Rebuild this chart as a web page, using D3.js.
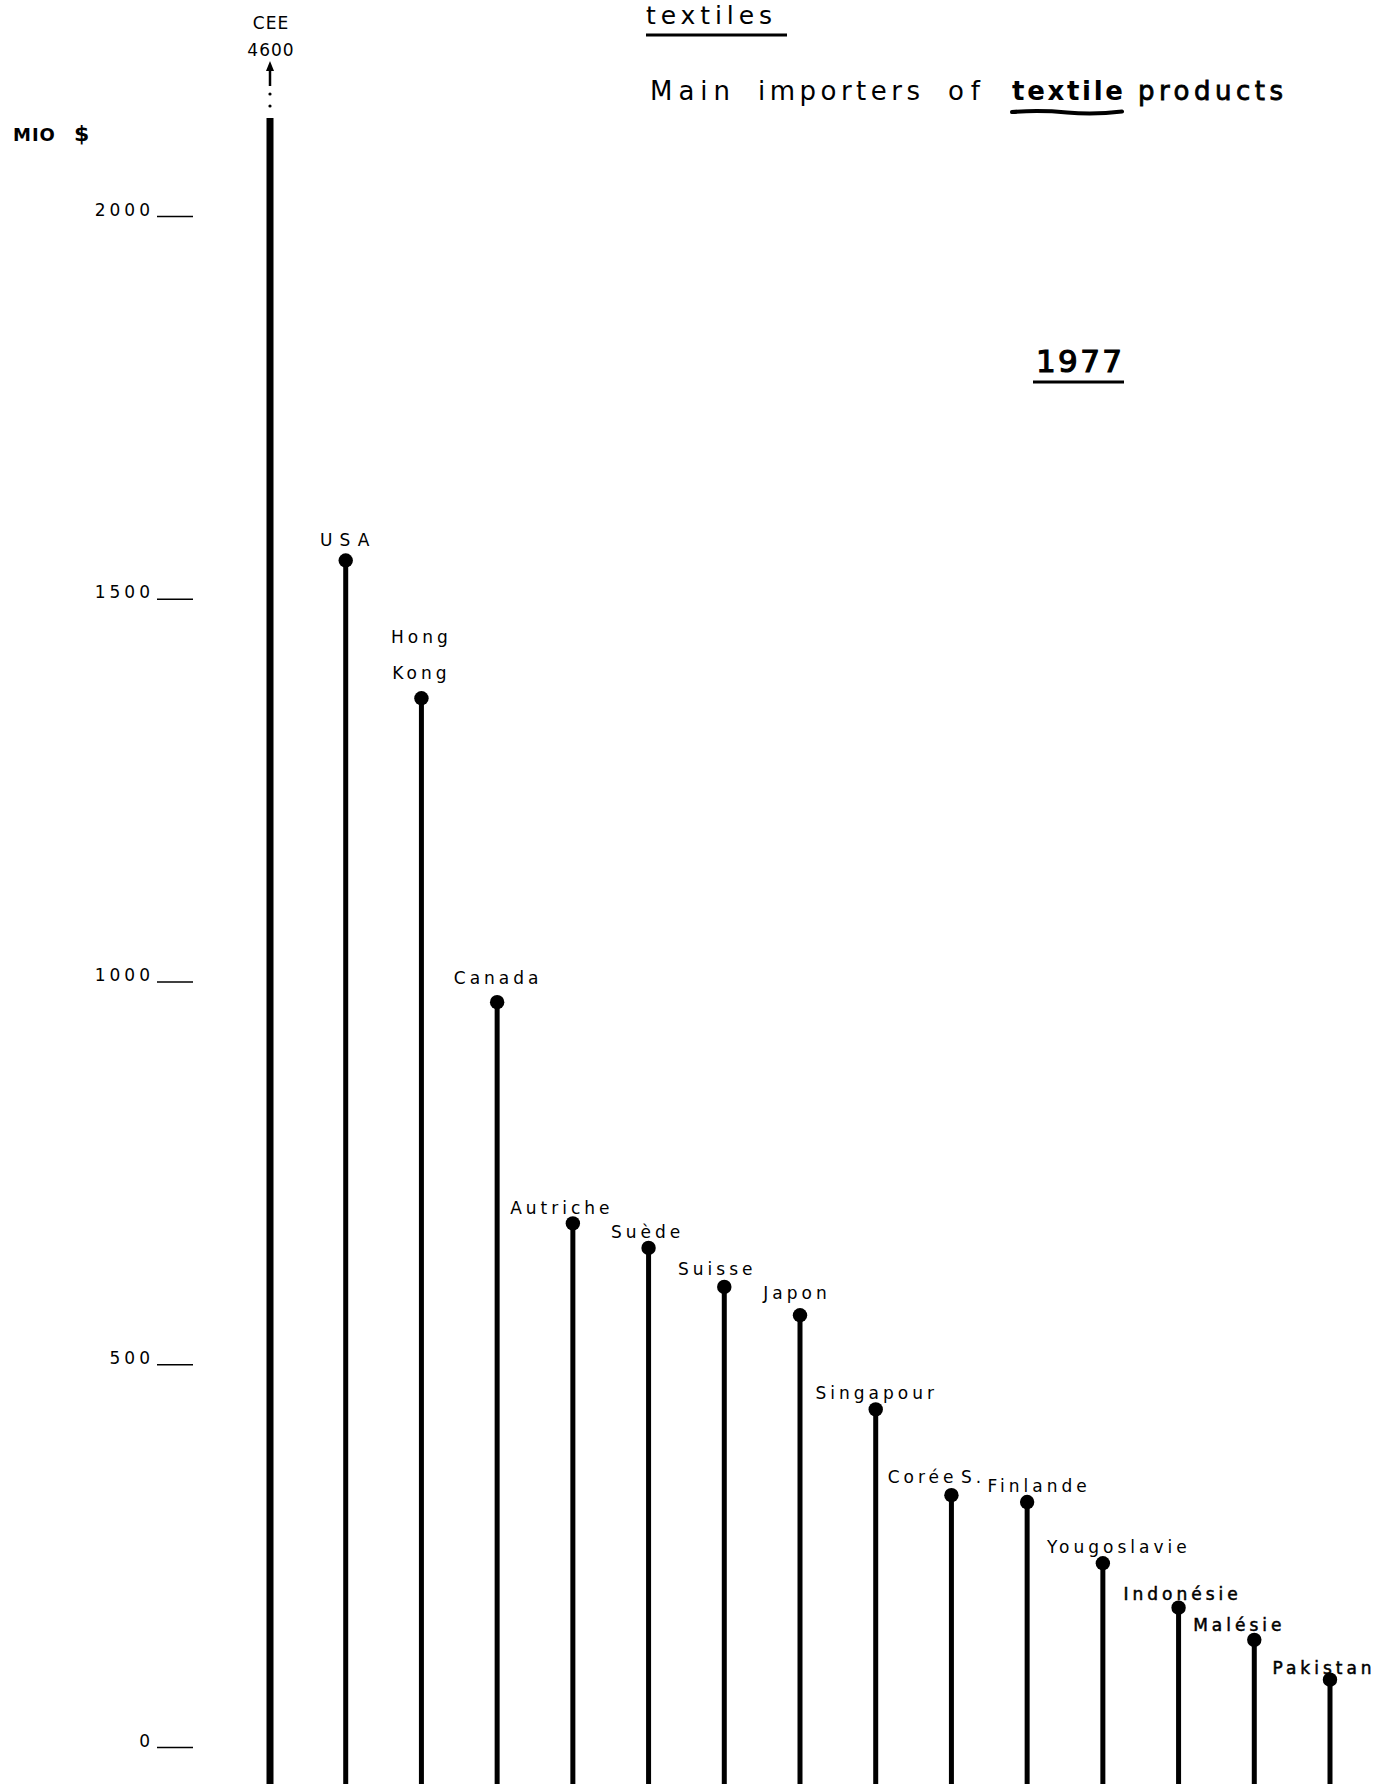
<!DOCTYPE html>
<html>
<head>
<meta charset="utf-8">
<script src="https://cdn.jsdelivr.net/npm/d3@7"></script>
<style>
  body { margin: 0; background: #fff; }
  svg text { font-family: "DejaVu Sans", "Noto Sans", sans-serif; fill: #000; }
</style>
</head>
<body>
<div id="chart"></div>
<script>
// data (Mio $, 1977)
var countries = ['CEE', 'USA', 'Hong Kong', 'Canada', 'Autriche', 'Suède', 'Suisse', 'Japon',
  'Singapour', 'Corée S.', 'Finlande', 'Yougoslavie', 'Indonésie', 'Malésie', 'Pakistan'];
var imports = [4600, 1550, 1370, 973, 684, 652, 601, 564, 441, 329, 320, 240, 182, 140, 88];
var yTicks = [0, 500, 1000, 1500, 2000];
var axisBreak = 2128; // stems above this value are drawn broken
var titleWords = ['Main', 'importers', 'of', 'textile', 'products'];

// label nudges (layout only): [dx, dy] of the label centre from the dot
var labelNudge = [[0, 0], [-1, -14], [-2, -19], [-1, -18], [-13, -9], [-3, -10], [-9, -12], [-5, -16],
  [-1, -10], [-17, -12], [10, -10], [14, -10], [2, -8], [-17, -9], [-8, -6]];
var heavyLabels = ['Indonésie', 'Malésie', 'Pakistan'];

var W = 1376, H = 1787;
var svg = d3.select('#chart').append('svg')
  .attr('width', W).attr('height', H);

var x = d3.scalePoint().domain(countries).range([270, 1330]);
var y = d3.scaleLinear().domain([0, 2000]).range([1747, 216]);
var stemBottom = H - 3;

// y axis: short dashes with labels
var axisG = svg.append('g').attr('transform', 'translate(193,0)');
axisG.call(d3.axisLeft(y).tickValues(yTicks).tickSize(36).tickPadding(3).tickFormat(d3.format('d')));
axisG.select('.domain').remove();
axisG.selectAll('.tick line').attr('stroke', '#000').attr('stroke-width', 1.6);
axisG.selectAll('.tick text')
  .attr('dy', '-0.05em')
  .style('font-size', '17px').style('letter-spacing', '4px')
  .style('font-family', '"DejaVu Sans", sans-serif').attr('fill', '#000');

var mio = svg.append('text').attr('x', 13).attr('y', 141)
  .style('font-size', '18px').style('font-weight', 'bold').style('letter-spacing', '1px');
mio.append('tspan').text('MIO');
mio.append('tspan').attr('dx', 18).style('font-size', '22px').text('$');

// stems
var stems = svg.selectAll('.stem')
  .data(countries.map(function(c, i) { return {name: c, value: imports[i], i: i}; }))
  .enter().append('g').attr('class', 'stem');

stems.append('line')
  .attr('x1', function(d) { return x(d.name); })
  .attr('x2', function(d) { return x(d.name); })
  .attr('y1', stemBottom)
  .attr('y2', function(d) { return y(Math.min(d.value, axisBreak)); })
  .attr('stroke', '#000')
  .attr('stroke-width', function(d) { return d.value > axisBreak ? 7 : 5; });

stems.filter(function(d) { return d.value <= axisBreak; })
  .append('circle')
  .attr('cx', function(d) { return x(d.name); })
  .attr('cy', function(d) { return y(d.value); })
  .attr('r', 7.2).attr('fill', '#000');

// broken stem: dots + arrow for the value off the scale
var broken = stems.filter(function(d) { return d.value > axisBreak; });
[12, 24].forEach(function(off) {
  broken.append('circle')
    .attr('cx', function(d) { return x(d.name); })
    .attr('cy', function(d) { return y(axisBreak) - off; })
    .attr('r', 1.6).attr('fill', '#000');
});
broken.append('line')
  .attr('x1', function(d) { return x(d.name); })
  .attr('x2', function(d) { return x(d.name); })
  .attr('y1', function(d) { return y(axisBreak) - 32; })
  .attr('y2', function(d) { return y(axisBreak) - 50; })
  .attr('stroke', '#000').attr('stroke-width', 2.5);
broken.append('path')
  .attr('d', function(d) {
    var cx = x(d.name), t = y(axisBreak) - 57;
    return 'M' + cx + ',' + t + 'L' + (cx - 4) + ',' + (t + 10) + 'L' + (cx + 4) + ',' + (t + 10) + 'Z';
  })
  .attr('fill', '#000');
broken.append('text')
  .attr('x', function(d) { return x(d.name) + 1; })
  .attr('y', function(d) { return y(axisBreak) - 62; })
  .attr('text-anchor', 'middle')
  .style('font-size', '17px').style('letter-spacing', '1px')
  .text(function(d) { return d.value; });
broken.append('text')
  .attr('x', function(d) { return x(d.name) + 1; })
  .attr('y', function(d) { return y(axisBreak) - 89; })
  .attr('text-anchor', 'middle')
  .style('font-size', '17px').style('letter-spacing', '1px')
  .text(function(d) { return d.name; });

// country labels
var ls = 4;
stems.filter(function(d) { return d.value <= axisBreak; })
  .each(function(d) {
    var g = d3.select(this);
    var lines = d.name === 'Hong Kong' ? ['Hong', 'Kong'] : [d.name];
    var nudge = labelNudge[d.i];
    var sp = d.name === 'USA' ? 7 : ls;
    lines.forEach(function(t, k) {
      var txt = g.append('text')
        .attr('x', x(d.name) + nudge[0] + sp / 2)
        .attr('y', y(d.value) + nudge[1] - (lines.length - 1 - k) * 36)
        .attr('text-anchor', 'middle')
        .style('font-size', '17px')
        .style('letter-spacing', sp + 'px')
        .style('word-spacing', '-6px')
        .text(t);
      if (heavyLabels.indexOf(d.name) >= 0) {
        txt.attr('stroke', '#000').attr('stroke-width', 0.5);
      }
    });
  });

// titles
svg.append('text').attr('x', 646).attr('y', 24)
  .attr('textLength', 126).attr('lengthAdjust', 'spacing')
  .style('font-size', '25px')
  .text('textiles');
svg.append('line').attr('x1', 646).attr('x2', 787).attr('y1', 35).attr('y2', 35)
  .attr('stroke', '#000').attr('stroke-width', 3);

var wordX = [650, 758, 948, 1012, 1138];
var wordLen = [80, 162, 32, 111, 145];
svg.selectAll('.tword').data(titleWords).enter().append('text')
  .attr('class', 'tword')
  .attr('x', function(d, i) { return wordX[i]; })
  .attr('y', 100)
  .attr('textLength', function(d, i) { return wordLen[i]; })
  .attr('lengthAdjust', 'spacing')
  .style('font-size', '26px')
  .style('font-weight', function(d) { return d === 'textile' ? 'bold' : 'normal'; })
  .attr('stroke', function(d) { return d === 'products' ? '#000' : 'none'; })
  .attr('stroke-width', 0.8)
  .text(function(d) { return d; });
svg.append('path')
  .attr('d', 'M1012,112 Q1040,110 1067,112.5 T1122,111.5')
  .attr('fill', 'none')
  .attr('stroke', '#000').attr('stroke-width', 4).attr('stroke-linecap', 'round');

svg.append('text').attr('x', 1036).attr('y', 372)
  .attr('textLength', 86).attr('lengthAdjust', 'spacing')
  .style('font-size', '31px')
  .attr('stroke', '#000').attr('stroke-width', 1.2)
  .text('1977');
svg.append('line').attr('x1', 1033).attr('x2', 1124).attr('y1', 382).attr('y2', 382)
  .attr('stroke', '#000').attr('stroke-width', 3);
</script>
</body>
</html>
